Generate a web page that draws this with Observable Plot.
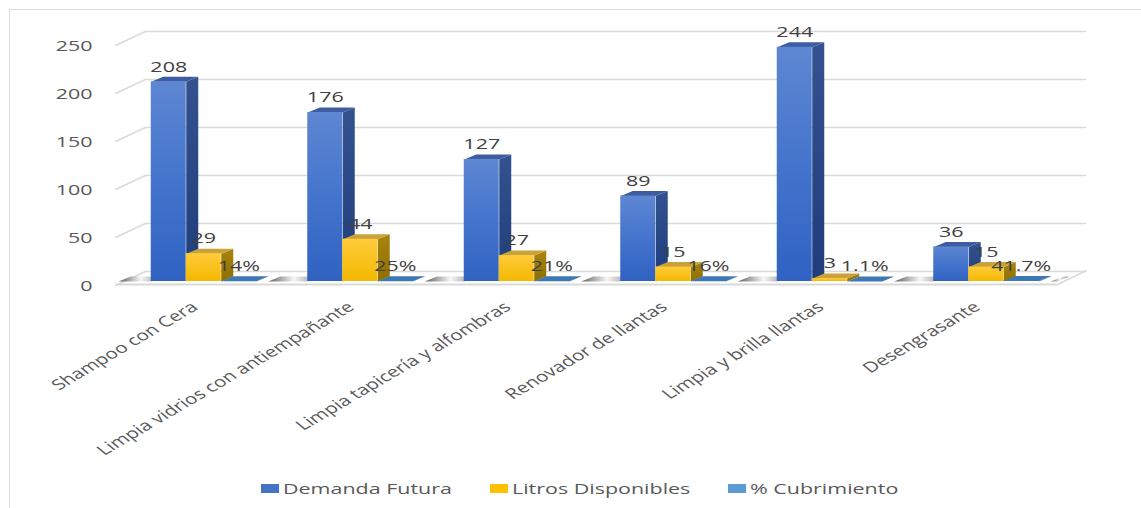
<!DOCTYPE html>
<html><head><meta charset="utf-8">
<script src="https://cdn.jsdelivr.net/npm/d3@7"></script>
<script src="https://cdn.jsdelivr.net/npm/@observablehq/plot@0.6"></script>
<style>
body{margin:0;background:#fff;}
#wrap{position:relative;width:1141px;height:508px;overflow:hidden;font-family:"Open Sans",sans-serif;background:#fff;}
#frame{position:absolute;left:9px;top:9px;width:1140px;height:510px;border-left:1px solid #d9d9d9;border-top:1px solid #d9d9d9;pointer-events:none;}
#chart{position:absolute;left:0;top:0;}
#legend{position:absolute;left:0;top:0;width:1141px;height:508px;pointer-events:none;font-size:15px;color:#595959;white-space:nowrap;}
#legend .sw{position:absolute;width:18px;height:9px;}
#legend .tx{position:absolute;display:inline-block;transform-origin:0 50%;line-height:20px;}
</style></head>
<body>
<svg width="0" height="0" style="position:absolute">
<defs>
<linearGradient id="frontBlue" x1="0" y1="0" x2="0" y2="1"><stop offset="0" stop-color="#5e87d3"/><stop offset="0.5" stop-color="#4474cc"/><stop offset="1" stop-color="#2f62c2"/></linearGradient>
<linearGradient id="sideBlue" x1="0" y1="0" x2="0" y2="1"><stop offset="0" stop-color="#34528f"/><stop offset="1" stop-color="#1f3d7a"/></linearGradient>
<linearGradient id="frontYellow" x1="0" y1="0" x2="0" y2="1"><stop offset="0" stop-color="#ffcb3a"/><stop offset="1" stop-color="#f4b800"/></linearGradient>
<linearGradient id="sideYellow" x1="0" y1="0" x2="0" y2="1"><stop offset="0" stop-color="#a8840f"/><stop offset="1" stop-color="#8e6f00"/></linearGradient>
<linearGradient id="shadow" x1="0" y1="0" x2="1" y2="0"><stop offset="0" stop-color="#3a3a3a"/><stop offset="0.5" stop-color="#f4f4f4"/><stop offset="1" stop-color="#6a6a6a"/></linearGradient>
</defs>
</svg>
<div id="wrap">
  <div id="chart"></div>
  <div id="legend"></div>
  <div id="frame"></div>
</div>
<script>
// ---- data ----
const categories = ["Shampoo con Cera","Limpia vidrios con antiempañante","Limpia tapicería y alfombras","Renovador de llantas","Limpia y brilla llantas","Desengrasante"];
const demandaFutura = [208,176,127,89,244,36];
const litrosDisponibles = [29,44,27,15,3,15];
const cubrimiento = [0.14,0.25,0.21,0.16,0.011,0.417];
const seriesNames = ["Demanda Futura","Litros Disponibles","% Cubrimiento"];
const seriesColors = ["#4472c4","#ffc000","#5b9bd5"];
const yTicks = [0,50,100,150,200,250];

// ---- layout ----
const W = 1141, H = 508, mL = 125, mR = 77, mT = 41, mB = 227;
const yMax = 250;
const STRETCH = 1.43;                            // horizontal stretch of all text
const PX = (W - mL - mR) / categories.length;   // px per category unit
const PY = (H - mT - mB) / yMax;                 // px per value unit
const barW = 35 / PX;
const DX = 12 / PX, DY = 5 / PY;                 // 3D depth
const fmtPct = v => `${+(v * 100).toFixed(1)}%`;

const bars = [];
categories.forEach((c, i) => {
  [demandaFutura[i], litrosDisponibles[i], cubrimiento[i]].forEach((v, j) => {
    const x1 = i + 0.5 + (j - 1.5) * barW;
    bars.push({cat: c, i, j, value: v, x1, x2: x1 + barW, label: j < 2 ? String(v) : fmtPct(v)});
  });
});
const sidePts = bars.flatMap((b, k) => [[b.x2, 0], [b.x2 + DX, DY], [b.x2 + DX, b.value + DY], [b.x2, b.value]].map(([x, y]) => ({x, y, k, j: b.j})));
const topPts = bars.flatMap((b, k) => [[b.x1, b.value], [b.x2, b.value], [b.x2 + DX, b.value + DY], [b.x1 + DX, b.value + DY]].map(([x, y]) => ({x, y, k, j: b.j})));

// floor geometry
const wallL = 20 / PX, frontL = -10 / PX, floorR = categories.length - 7 / PX, wallR = categories.length + 22 / PX;
const backDY = 14 / PY;
const gaps = [];
for (let g = 0; g <= categories.length; g++) {
  const a = g === 0 ? frontL + 3 / PX : g - 0.5 + 1.5 * barW + DX;
  const b = g === categories.length ? floorR : g + 0.5 - 1.5 * barW;
  gaps.push([[a, 0], [b, 0], [b + DX, DY], [a + DX, DY]].map(([x, y]) => ({x, y, g})));
}
const gapPts = gaps.flat();

const faceCols = {
  side: ["url(#sideBlue)", "url(#sideYellow)", "#28527e"],
  top: ["#3d5ca2", "#c9a23a", "#3d78b4"],
  front: ["url(#frontBlue)", "url(#frontYellow)", "#4282c4"]
};

const marks = [
  Plot.ruleY(yTicks, {y: d => d, dy: -10, insetLeft: 20, insetRight: -22, stroke: "#d9d9d9", strokeWidth: 1.5}),
  Plot.link(yTicks, {x1: frontL, x2: wallL, y1: d => d, y2: d => d + backDY, dy: 4, stroke: "#d9d9d9", strokeWidth: 1.5}),
  Plot.line(gapPts, {x: "x", y: "y", z: "g", fill: "url(#shadow)", stroke: "none", fillOpacity: 0.8}),
  Plot.ruleY([0], {dy: 3, insetLeft: -10, insetRight: 7, stroke: "#d9d9d9", strokeWidth: 2}),
  Plot.link([0], {x1: floorR, x2: wallR, y1: 0, y2: backDY, dy: 3, stroke: "#d9d9d9", strokeWidth: 1.5}),
];
[0, 1, 2].forEach(j => marks.push(Plot.line(sidePts.filter(p => p.j === j), {x: "x", y: "y", z: "k", fill: faceCols.side[j], stroke: "none"})));
[0, 1, 2].forEach(j => marks.push(Plot.line(topPts.filter(p => p.j === j), {x: "x", y: "y", z: "k", fill: faceCols.top[j], stroke: "none"})));
[0, 1, 2].forEach(j => marks.push(Plot.rect(bars.filter(b => b.j === j), {x1: "x1", x2: "x2", y1: 0, y2: "value", fill: faceCols.front[j]})));
marks.push(
  Plot.text(bars, {x: b => (b.x1 + b.x2) / 2, y: "value", text: "label", dy: -15, fill: "#404040", fontSize: 15}),
  Plot.text(yTicks, {y: d => d, frameAnchor: "left", dx: -33, dy: 5, textAnchor: "end", fill: "#595959", fontSize: 15}),
  Plot.text(categories, {x: (d, i) => i + 0.5, y: 0, dx: -9, dy: 23.5, rotate: -40, textAnchor: "end", fill: "#595959", fontSize: 14.5})
);

const chart = Plot.plot({
  width: W, height: H,
  marginLeft: mL, marginRight: mR, marginTop: mT, marginBottom: mB,
  x: {domain: [0, categories.length], axis: null},
  y: {domain: [0, yMax], axis: null},
  style: {fontFamily: "'Open Sans', sans-serif", background: "transparent", overflow: "visible"},
  marks
});
// stretch all text horizontally (screen space), as in the reference
chart.querySelectorAll("text").forEach(t => {
  const tr = t.getAttribute("transform") || "";
  const m = tr.match(/^\s*(translate\([^)]*\))(.*)$/);
  if (m) {
    t.setAttribute("transform", `${m[1]} scale(${STRETCH},1)${m[2]}`);
  } else {
    const x = +(t.getAttribute("x") || 0), y = +(t.getAttribute("y") || 0);
    t.removeAttribute("x"); t.removeAttribute("y");
    t.setAttribute("transform", `translate(${x},${y}) scale(${STRETCH},1) ${tr}`);
  }
});
document.getElementById("chart").appendChild(chart);

// legend
const legend = document.getElementById("legend");
let left = 261;
const legendY = 488;
seriesNames.forEach((n, k) => {
  const sw = document.createElement("div"); sw.className = "sw";
  sw.style.background = seriesColors[k];
  sw.style.left = left + "px"; sw.style.top = (legendY - 4.5) + "px";
  legend.appendChild(sw);
  const tx = document.createElement("span"); tx.className = "tx"; tx.textContent = n;
  tx.style.left = (left + 22) + "px"; tx.style.top = (legendY - 10) + "px";
  tx.style.transform = `scaleX(${STRETCH})`;
  legend.appendChild(tx);
  const w = tx.getBoundingClientRect().width;
  left = left + 22 + w + 38;
});
</script>
</body></html>
